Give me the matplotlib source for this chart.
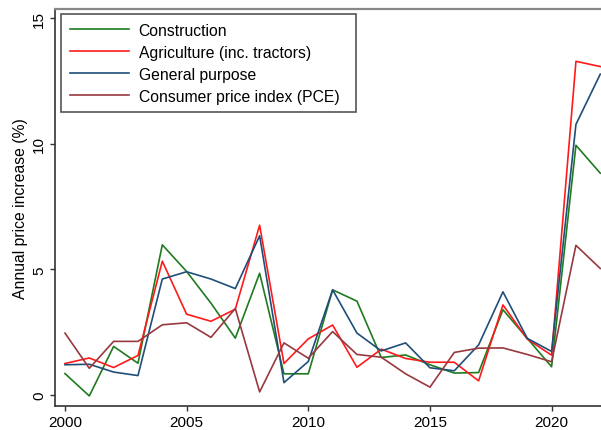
import matplotlib.pyplot as plt

plt.rcParams['font.family'] = ['Liberation Sans', 'DejaVu Sans']

years = list(range(2000, 2023))

construction = [0.86, -0.03, 1.94, 1.27, 5.98, 4.92, 3.66, 2.27, 4.85, 0.85, 0.85, 4.19,
                3.74, 1.50, 1.60, 1.21, 0.88, 0.90, 3.40, 2.26, 1.13, 9.94, 8.83]
agriculture = [1.26, 1.48, 1.10, 1.58, 5.33, 3.22, 2.94, 3.42, 6.76, 1.26, 2.24, 2.79,
               1.11, 1.83, 1.46, 1.31, 1.31, 0.57, 3.59, 2.23, 1.59, 13.28, 13.07]
general = [1.21, 1.23, 0.92, 0.78, 4.62, 4.91, 4.62, 4.24, 6.34, 0.50, 1.34, 4.19,
           2.47, 1.76, 2.08, 1.09, 0.97, 2.00, 4.11, 2.26, 1.74, 10.77, 12.77]
cpi = [2.47, 1.07, 2.14, 2.14, 2.80, 2.88, 2.30, 3.45, 0.13, 2.08, 1.47, 2.53,
       1.62, 1.51, 0.85, 0.32, 1.70, 1.87, 1.88, 1.62, 1.33, 5.96, 5.04]

series = [
    ("Construction", construction, "#1e7b1e"),
    ("Agriculture (inc. tractors)", agriculture, "#ff1a1a"),
    ("General purpose", general, "#1f4e79"),
    ("Consumer price index (PCE)", cpi, "#98383f"),
]

fig = plt.figure(figsize=(6.01, 4.31), dpi=100)
ax = fig.add_axes([55 / 601, 24 / 431, 546 / 601, 397 / 431])

for name, vals, col in series:
    ax.plot(years, vals, color=col, lw=1.2, label=name)

ax.set_xlim(1999.59, 2022.03)
ax.set_ylim(-0.43, 15.36)
ax.set_xticks([2000, 2005, 2010, 2015, 2020])
ax.set_yticks([0, 5, 10, 15])
ax.tick_params(direction='out', length=3.8, width=1, labelsize=11, pad=2.5, color='#333333')
for lab in ax.get_yticklabels():
    lab.set_rotation(90)
    lab.set_va('center')
ax.set_ylabel("Annual price increase (%)", fontsize=11.3, labelpad=3)

ax.spines['right'].set_visible(False)
ax.spines['top'].set_color('#888888')
ax.spines['top'].set_linewidth(1.6)
ax.spines['left'].set_color('#333333')
ax.spines['bottom'].set_color('#333333')
ax.spines['left'].set_linewidth(1.2)
ax.spines['bottom'].set_linewidth(1.2)

leg = ax.legend(loc='upper left', bbox_to_anchor=(0.011, 0.7456, 0.54, 0.2418), mode='expand',
                fontsize=11.3, handlelength=3.8, handletextpad=0.6, labelspacing=0.45,
                fancybox=False, framealpha=1, borderpad=0.55, borderaxespad=0)
leg.get_frame().set_edgecolor('#555555')
leg.get_frame().set_linewidth(1.2)

fig.savefig("out.png", dpi=100)
